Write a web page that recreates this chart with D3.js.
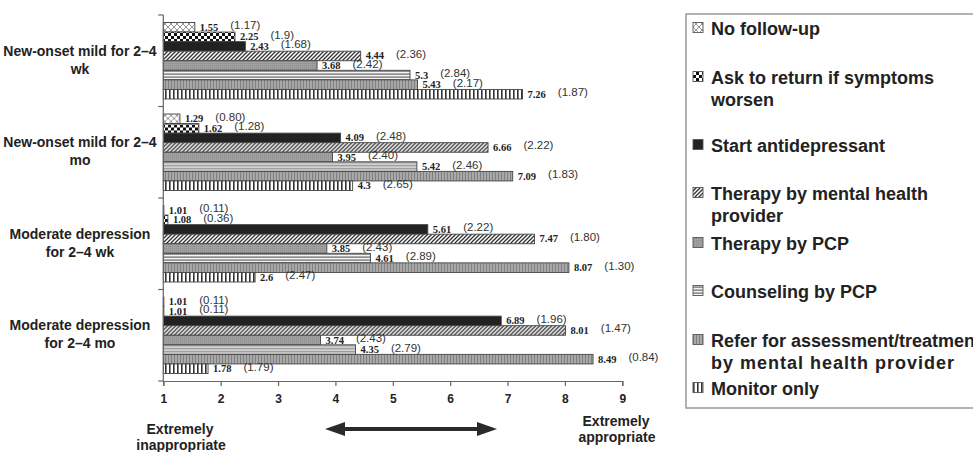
<html>
<head>
<script src="https://cdn.jsdelivr.net/npm/d3@7"></script>
<style>
  body { margin: 0; background: #fff; }
  text { font-family: "Liberation Sans", Arial, sans-serif; fill: #222; }
  .val { font-family: "Liberation Serif", "Times New Roman", serif; font-weight: bold; font-size: 10.5px; }
  .sd { font-size: 11.5px; fill: #333; }
  .cat { font-weight: bold; font-size: 14px; }
  .tick { font-weight: bold; font-size: 12px; }
  .leg { font-weight: bold; font-size: 18px; }
</style>
</head>
<body>
<div id="chart"></div>
<script>
// Categories (two lines each, as on the chart)
const categoryLines = [
  ["New-onset mild for 2\u20134", "wk"],
  ["New-onset mild for 2\u20134", "mo"],
  ["Moderate depression", "for 2\u20134 wk"],
  ["Moderate depression", "for 2\u20134 mo"]
];
const categories = categoryLines.map(d => d.join(" "));

// Series (management options)
const series = ["No follow-up", "Ask to return if symptoms worsen", "Start antidepressant",
  "Therapy by mental health provider", "Therapy by PCP", "Counseling by PCP",
  "Refer for assessment/treatment by mental health provider", "Monitor only"];

// Mean ratings, one row per category, one value per series
const means = [
  [1.55, 2.25, 2.43, 4.44, 3.68, 5.3, 5.43, 7.26],
  [1.29, 1.62, 4.09, 6.66, 3.95, 5.42, 7.09, 4.3],
  [1.01, 1.08, 5.61, 7.47, 3.85, 4.61, 8.07, 2.6],
  [1.01, 1.01, 6.89, 8.01, 3.74, 4.35, 8.49, 1.78]
];
// Standard deviations (as printed)
const sds = [
  ["1.17", "1.9", "1.68", "2.36", "2.42", "2.84", "2.17", "1.87"],
  ["0.80", "1.28", "2.48", "2.22", "2.40", "2.46", "1.83", "2.65"],
  ["0.11", "0.36", "2.22", "1.80", "2.43", "2.89", "1.30", "2.47"],
  ["0.11", "0.11", "1.96", "1.47", "2.43", "2.79", "0.84", "1.79"]
];
const xTicks = [1, 2, 3, 4, 5, 6, 7, 8, 9];

// Legend text lines per series
const legendLines = [
  ["No follow-up"],
  ["Ask to return if symptoms", "worsen"],
  ["Start antidepressant"],
  ["Therapy by mental health", "provider"],
  ["Therapy by PCP"],
  ["Counseling by PCP"],
  ["Refer for assessment/treatment", "by mental health provider"],
  ["Monitor only"]
];
// first-line centre of each legend entry
const legendY = [28, 77, 145, 193, 243, 291, 340, 388];

const W = 973, H = 452;
const svg = d3.select("#chart").append("svg").attr("width", W).attr("height", H);

// patterns
const defs = svg.append("defs");
function pat(id, w, h, draw) {
  const p = defs.append("pattern").attr("id", id).attr("patternUnits", "userSpaceOnUse")
    .attr("width", w).attr("height", h);
  draw(p);
}
pat("p0", 6, 6, p => {
  p.append("rect").attr("width", 6).attr("height", 6).attr("fill", "#fff");
  p.append("path").attr("d", "M0,6 L6,0 M0,0 L6,6").attr("stroke", "#8a8a8a").attr("stroke-width", 0.9);
});
pat("p1", 6, 6, p => {
  p.append("rect").attr("width", 6).attr("height", 6).attr("fill", "#fff");
  p.append("rect").attr("width", 3).attr("height", 3).attr("fill", "#111");
  p.append("rect").attr("x", 3).attr("y", 3).attr("width", 3).attr("height", 3).attr("fill", "#111");
});
pat("p2", 4, 4, p => {
  p.append("rect").attr("width", 4).attr("height", 4).attr("fill", "#222");
});
pat("p3", 4, 4, p => {
  p.append("rect").attr("width", 4).attr("height", 4).attr("fill", "#fff");
  p.append("path").attr("d", "M-1,5 L5,-1 M-1,1 L1,-1 M3,5 L5,3").attr("stroke", "#333").attr("stroke-width", 1.3);
});
pat("p4", 2, 2, p => {
  p.append("rect").attr("width", 2).attr("height", 2).attr("fill", "#a0a0a0");
  p.append("rect").attr("width", 1).attr("height", 1).attr("fill", "#8c8c8c");
});
pat("p5", 4, 3, p => {
  p.append("rect").attr("width", 4).attr("height", 3).attr("fill", "#f4f4f4");
  p.append("rect").attr("y", 1.5).attr("width", 4).attr("height", 1.2).attr("fill", "#666");
});
pat("p6", 3, 3, p => {
  p.append("rect").attr("width", 3).attr("height", 3).attr("fill", "#a8a8a8");
  p.append("rect").attr("width", 1).attr("height", 3).attr("fill", "#808080");
});
pat("p7", 4, 4, p => {
  p.append("rect").attr("width", 4).attr("height", 4).attr("fill", "#fff");
  p.append("rect").attr("x", 1).attr("width", 1.6).attr("height", 4).attr("fill", "#333");
});

// scales
const x = d3.scaleLinear().domain([1, 9]).range([163.3, 622.3]);
const y = d3.scaleBand().domain(categories).range([15, 381]);
const yi = d3.scaleBand().domain(d3.range(series.length)).range([7.5, y.bandwidth() - 7.5]);

// bars + labels
const groups = svg.append("g").selectAll("g").data(categories).join("g")
  .attr("transform", d => `translate(0,${y(d)})`);

groups.each(function(cat, ci) {
  const g = d3.select(this);
  const rows = means[ci].map((v, si) => ({v, si, sd: sds[ci][si]}));
  g.selectAll("rect").data(rows).join("rect")
    .attr("x", x(1))
    .attr("y", d => yi(d.si))
    .attr("width", d => x(d.v) - x(1))
    .attr("height", yi.bandwidth())
    .attr("fill", d => `url(#p${d.si})`)
    .attr("stroke", "#444").attr("stroke-width", 0.9);

  rows.forEach(d => {
    const cy = yi(d.si) + yi.bandwidth() / 2;
    const t = g.append("text").attr("class", "val")
      .attr("x", x(d.v) + 5).attr("y", cy + 3.5).text(String(d.v));
    const end = x(d.v) + 5 + t.node().getComputedTextLength();
    g.append("text").attr("class", "sd")
      .attr("x", end + 12).attr("y", cy + 2).text(`(${d.sd})`);
  });

  // category label
  const cy = y.bandwidth() / 2;
  g.append("text").attr("class", "cat").attr("text-anchor", "middle")
    .attr("x", 80).attr("y", cy - 10 + 5).text(categoryLines[ci][0]);
  g.append("text").attr("class", "cat").attr("text-anchor", "middle")
    .attr("x", 80).attr("y", cy + 8 + 5).text(categoryLines[ci][1]);
});

// y axis (category)
const axisCol = "#666";
svg.append("line").attr("x1", x(1)).attr("x2", x(1)).attr("y1", 15).attr("y2", 381)
  .attr("stroke", axisCol).attr("stroke-width", 1.2);
svg.append("g").selectAll("line").data(categories.concat(["end"])).join("line")
  .attr("x1", x(1) - 5).attr("x2", x(1))
  .attr("y1", d => d === "end" ? 381 : y(d)).attr("y2", d => d === "end" ? 381 : y(d))
  .attr("stroke", axisCol).attr("stroke-width", 1.2);

// x axis
const xa = svg.append("g").attr("transform", "translate(0,381)")
  .call(d3.axisBottom(x).tickValues(xTicks).tickSize(5).tickFormat(d3.format("d")));
xa.select(".domain").attr("stroke", axisCol).attr("stroke-width", 1.2);
xa.selectAll(".tick line").attr("stroke", axisCol).attr("stroke-width", 1.2);
xa.selectAll(".tick text").attr("class", "tick").attr("dy", 0).attr("y", 22)
  .style("font-family", "'Liberation Sans', Arial, sans-serif").attr("fill", "#222");

// end labels
svg.append("text").attr("class", "cat").attr("text-anchor", "middle").attr("x", 180).attr("y", 434).text("Extremely");
svg.append("text").attr("class", "cat").attr("text-anchor", "middle").attr("x", 181).attr("y", 450).text("inappropriate");
svg.append("text").attr("class", "cat").attr("text-anchor", "middle").attr("x", 616).attr("y", 426).text("Extremely");
svg.append("text").attr("class", "cat").attr("text-anchor", "middle").attr("x", 617).attr("y", 442).text("appropriate");

// double arrow
const ay = 429;
svg.append("line").attr("x1", 340).attr("x2", 482).attr("y1", ay).attr("y2", ay)
  .attr("stroke", "#2a2a2a").attr("stroke-width", 4);
svg.append("path").attr("d", `M325,${ay} L345,${ay - 7} L345,${ay + 7} Z`).attr("fill", "#2a2a2a");
svg.append("path").attr("d", `M497,${ay} L477,${ay - 7} L477,${ay + 7} Z`).attr("fill", "#2a2a2a");

// legend
const leg = svg.append("g");
leg.append("rect").attr("x", 686).attr("y", 14).attr("width", 320).attr("height", 394)
  .attr("fill", "#fff").attr("stroke", "#999").attr("stroke-width", 1.5);
series.forEach((s, i) => {
  const ly = legendY[i];
  leg.append("rect").attr("x", 693).attr("y", ly - 5.5).attr("width", 10).attr("height", 10)
    .attr("fill", `url(#p${i})`).attr("stroke", "#555").attr("stroke-width", 0.9);
  legendLines[i].forEach((line, li) => {
    const t = leg.append("text").attr("class", "leg").attr("x", 711).attr("y", ly + 6.5 + li * 22).text(line);
    if (line === "by mental health provider") t.attr("letter-spacing", 1);
  });
});
</script>
</body>
</html>
